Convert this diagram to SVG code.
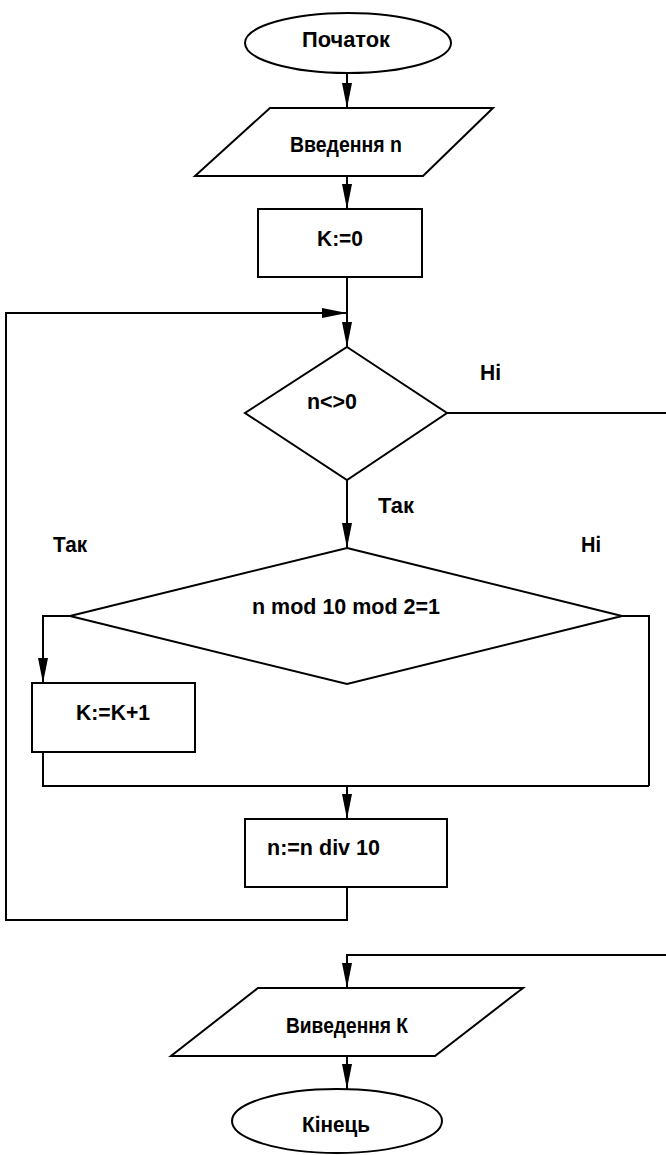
<svg xmlns="http://www.w3.org/2000/svg" width="666" height="1155" viewBox="0 0 666 1155">
  <style>
    .shape { fill: #ffffff; stroke: #000000; stroke-width: 2; }
    .line { fill: none; stroke: #000000; stroke-width: 2; }
    .arrow { marker-end: url(#head); }
    text { font-family: "Liberation Sans", Arial, sans-serif; font-weight: bold; font-size: 22px; fill: #000000; }
  </style>
  <defs>
    <marker id="head" markerUnits="userSpaceOnUse" markerWidth="26" markerHeight="10" refX="25" refY="5" orient="auto">
      <path d="M0,0 L25,5 L0,10 z" fill="#000000"/>
    </marker>
  </defs>
  <rect width="666" height="1155" fill="#ffffff"/>

  <g id="connectors">
    <path class="line arrow" d="M347,73 V108"/>
    <path class="line arrow" d="M347,176 V209"/>
    <path class="line arrow" d="M347,277 V347"/>
    <path class="line arrow" d="M347,887 V920 H6 V313 H347"/>
    <path class="line arrow" d="M347,480 V548"/>
    <path class="line arrow" d="M447,413 H668 V955 H347 V988"/>
    <path class="line arrow" d="M70,616 H43 V683"/>
    <path class="line" d="M622,616 H649 V786"/>
    <path class="line" d="M43,752 V786 H649"/>
    <path class="line arrow" d="M347,786 V819"/>
    <path class="line arrow" d="M347,1056 V1089"/>
  </g>

  <g id="start">
    <ellipse class="shape" cx="348" cy="43" rx="103" ry="30"/>
    <text x="302" y="47" textLength="88" lengthAdjust="spacingAndGlyphs">Початок</text>
  </g>

  <g id="input-n">
    <polygon class="shape" points="270,108 493,108 423,176 195,176"/>
    <text x="290" y="152" textLength="112" lengthAdjust="spacingAndGlyphs">Введення n</text>
  </g>

  <g id="init-k">
    <rect class="shape" x="258" y="209" width="164" height="68"/>
    <text x="317" y="246" textLength="46" lengthAdjust="spacingAndGlyphs">K:=0</text>
  </g>

  <g id="check-n">
    <polygon class="shape" points="347,347 447,413 347,480 245,413"/>
    <text x="307" y="409" textLength="50" lengthAdjust="spacingAndGlyphs">n&lt;&gt;0</text>
  </g>

  <g id="labels">
    <text x="480" y="380" textLength="21" lengthAdjust="spacingAndGlyphs">Ні</text>
    <text x="378" y="513" textLength="36" lengthAdjust="spacingAndGlyphs">Так</text>
    <text x="53" y="552" textLength="34" lengthAdjust="spacingAndGlyphs">Так</text>
    <text x="581" y="552" textLength="20" lengthAdjust="spacingAndGlyphs">Ні</text>
  </g>

  <g id="check-odd">
    <polygon class="shape" points="347,548 622,616 347,684 70,616"/>
    <text x="252" y="614" textLength="188" lengthAdjust="spacingAndGlyphs">n mod 10 mod 2=1</text>
  </g>

  <g id="inc-k">
    <rect class="shape" x="32" y="683" width="163" height="69"/>
    <text x="76" y="720" textLength="74" lengthAdjust="spacingAndGlyphs">K:=K+1</text>
  </g>

  <g id="div-n">
    <rect class="shape" x="245" y="819" width="202" height="68"/>
    <text x="267" y="855" textLength="113" lengthAdjust="spacingAndGlyphs">n:=n div 10</text>
  </g>

  <g id="output-k">
    <polygon class="shape" points="258,988 523,988 435,1056 171,1056"/>
    <text x="286" y="1033" textLength="122" lengthAdjust="spacingAndGlyphs">Виведення К</text>
  </g>

  <g id="end">
    <ellipse class="shape" cx="337" cy="1121" rx="105" ry="32"/>
    <text x="302" y="1132" textLength="68" lengthAdjust="spacingAndGlyphs">Кінець</text>
  </g>
</svg>
